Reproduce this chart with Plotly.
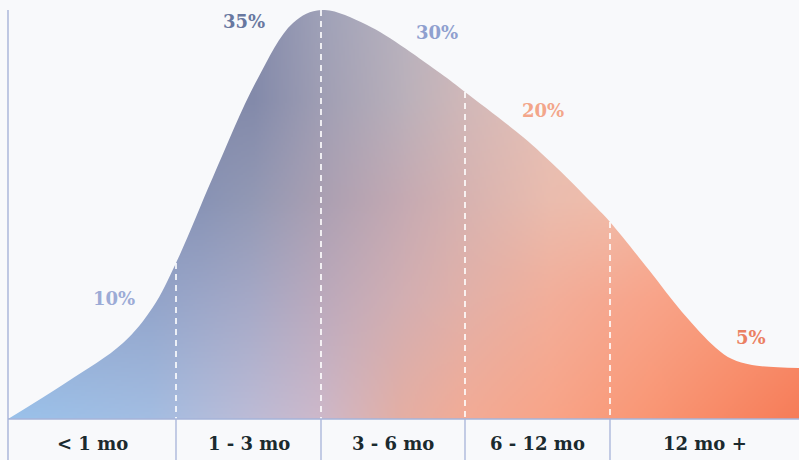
import base64
import struct
import zlib

import numpy as np
import plotly.graph_objects as go

# ---------------------------------------------------------------- data
categories = ["< 1 mo", "1 - 3 mo", "3 - 6 mo", "6 - 12 mo", "12 mo +"]
share_pct = [10, 35, 30, 20, 5]

# band edges along the horizontal axis (plot units)
band_edges = [0, 168, 313, 457, 602, 791]

# smoothed distribution curve (x in plot units, y in %)
curve_x = [0, 59, 115, 145, 168, 205, 249, 285, 313, 359, 432, 457, 515, 549,
           582, 602, 641, 674, 708, 724, 744, 791]
curve_y = [0.0, 3.17, 6.50, 9.58, 13.35, 20.71, 29.01, 33.89, 35.0, 33.72, 29.61,
           27.98, 24.13, 21.48, 18.65, 16.86, 12.75, 9.16, 6.08, 5.13, 4.62, 4.36]

# ---------------------------------------------------------------- style
BG = "#f8f9fb"
AXIS = "#a6b3d8"
TEXT = "#1b2a2e"
FONT = "DejaVu Serif"
X_MAX = band_edges[-1]
Y_MAX = 35

label_pos = [(106, 10.3), (236, 34.0), (429, 33.1), (535, 26.4), (743, 7.0)]
label_colors = ["#9cabd6", "#6878a0", "#8fa0cf", "#f3a68a", "#eb8062"]

# gradient colour field of the area: rows of (u, colour), u = 0..1 left->right,
# each row at a vertical position v = 0 (top) .. 1 (baseline)
grad_rows = [
    (0.00, [(0.00, "#7e86a6"), (0.31, "#858bab"), (0.40, "#a0a2b8"), (0.50, "#b8b2be"),
            (0.62, "#d4bcbc"), (0.75, "#e8c0b4"), (0.875, "#f4b8a0"), (1.00, "#f8a888")]),
    (0.22, [(0.00, "#7f87a8"), (0.31, "#838aaa"), (0.40, "#a19fb4"), (0.50, "#bab0ba"),
            (0.584, "#d2b8b8"), (0.685, "#e6c0b6"), (0.81, "#f2bca8"), (1.00, "#f8a888")]),
    (0.465, [(0.00, "#8592b8"), (0.243, "#8893b5"), (0.306, "#9298b4"), (0.394, "#aa9fb2"),
             (0.496, "#c4a9b2"), (0.584, "#d8b3b0"), (0.685, "#eabcae"), (0.761, "#f0bcaa"),
             (0.875, "#f6b098"), (1.00, "#f8a080")]),
    (0.709, [(0.00, "#90a6ce"), (0.18, "#92a4ca"), (0.306, "#a5a8c6"), (0.394, "#bba9bc"),
             (0.496, "#d2aeb2"), (0.578, "#e2b0a8"), (0.685, "#f2ae9a"), (0.81, "#f8a48a"),
             (0.926, "#f99a7a"), (1.00, "#f89272")]),
    (1.00, [(0.00, "#99c1ea"), (0.18, "#a3bde2"), (0.306, "#bcbbd6"), (0.394, "#cdb8ca"),
            (0.496, "#e4aea4"), (0.578, "#f2ab96"), (0.685, "#f8a488"), (0.81, "#f99674"),
            (1.00, "#f67c58")]),
]


def hex_rgb(h):
    h = h.lstrip("#")
    return [int(h[i:i + 2], 16) for i in (0, 2, 4)]


def gradient_png(width, height):
    u = (np.arange(width) + 0.5) / width
    v = (np.arange(height) + 0.5) / height
    row_v = np.array([r[0] for r in grad_rows])
    row_img = []
    for _, stops in grad_rows:
        su = np.array([s[0] for s in stops])
        sc = np.array([hex_rgb(s[1]) for s in stops], dtype=float)
        row_img.append(np.stack([np.interp(u, su, sc[:, c]) for c in range(3)], axis=1))
    row_img = np.array(row_img)  # rows x W x 3
    img = np.empty((height, width, 3))
    for j, vj in enumerate(v):
        k = int(np.clip(np.searchsorted(row_v, vj) - 1, 0, len(row_v) - 2))
        t = (vj - row_v[k]) / (row_v[k + 1] - row_v[k])
        img[j] = (1 - t) * row_img[k] + t * row_img[k + 1]
    rgb = np.clip(np.round(img), 0, 255).astype(np.uint8)
    raw = b"".join(b"\x00" + rgb[i].tobytes() for i in range(height))

    def chunk(tag, data):
        body = tag + data
        return struct.pack(">I", len(data)) + body + struct.pack(">I", zlib.crc32(body) & 0xFFFFFFFF)

    png = (b"\x89PNG\r\n\x1a\n"
           + chunk(b"IHDR", struct.pack(">IIBBBBB", width, height, 8, 2, 0, 0, 0))
           + chunk(b"IDAT", zlib.compress(raw, 9))
           + chunk(b"IEND", b""))
    return "data:image/png;base64," + base64.b64encode(png).decode()


fig = go.Figure()

# ceiling used to mask everything above the curve with the background
fig.add_trace(go.Scatter(x=[0, X_MAX], y=[Y_MAX + 5, Y_MAX + 5], mode="lines",
                         line=dict(width=0), hoverinfo="skip", showlegend=False))
fig.add_trace(go.Scatter(x=curve_x, y=curve_y, mode="lines",
                         line=dict(shape="spline", smoothing=1, width=0, color=BG),
                         fill="tonexty", fillcolor=BG, hoverinfo="skip", showlegend=False))

shapes = []
# dashed separators inside the area, from the curve down to the baseline
curve_at = dict(zip(curve_x, curve_y))
for e in band_edges[1:-1]:
    shapes.append(dict(type="line", xref="x", yref="y", x0=e, x1=e, y0=curve_at[e], y1=0,
                       line=dict(color="rgba(255,255,255,0.9)", width=1.8, dash="6px,5px")))

# category boxes under the baseline
bottom = -41 / 409
shapes.append(dict(type="line", xref="paper", yref="paper", x0=0, x1=1, y0=0, y1=0,
                   line=dict(color=AXIS, width=1.5)))
shapes.append(dict(type="line", xref="paper", yref="paper", x0=0, x1=0, y0=1, y1=bottom,
                   line=dict(color=AXIS, width=1.4)))
for e in band_edges[1:-1]:
    shapes.append(dict(type="line", xref="paper", yref="paper", x0=e / X_MAX, x1=e / X_MAX,
                       y0=0, y1=bottom, line=dict(color=AXIS, width=1.3)))

annotations = []
for i, cat in enumerate(categories):
    annotations.append(dict(x=(band_edges[i] + band_edges[i + 1]) / 2, xref="x",
                            y=-25 / 409, yref="paper", text=cat, showarrow=False,
                            xanchor="center", yanchor="middle",
                            font=dict(family=FONT, size=18, color=TEXT, weight="bold")))
for (lx, ly), pct, col in zip(label_pos, share_pct, label_colors):
    annotations.append(dict(x=lx, y=ly, xref="x", yref="y", text=f"{pct}%", showarrow=False,
                            xanchor="center", yanchor="middle",
                            font=dict(family=FONT, size=18, color=col, weight="bold")))

fig.update_layout(
    width=799, height=460,
    margin=dict(l=8, r=0, t=10, b=41),
    paper_bgcolor=BG, plot_bgcolor="rgba(0,0,0,0)",
    xaxis=dict(range=[0, X_MAX], visible=False, fixedrange=True),
    yaxis=dict(range=[0, Y_MAX], visible=False, fixedrange=True),
    images=[dict(source=gradient_png(396, 205), xref="x", yref="y", x=0, y=Y_MAX,
                 sizex=X_MAX, sizey=Y_MAX, xanchor="left", yanchor="top",
                 sizing="stretch", layer="below")],
    shapes=shapes,
    annotations=annotations,
    showlegend=False,
)

fig.write_html("out.html")
